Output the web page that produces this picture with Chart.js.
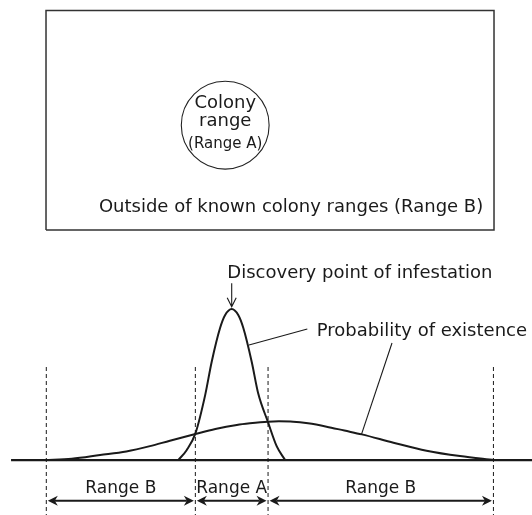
<!DOCTYPE html>
<html>
<head>
<meta charset="utf-8">
<script src="https://cdn.jsdelivr.net/npm/chart.js@4.4.1/dist/chart.umd.min.js"></script>
<style>
    html, body { margin: 0; padding: 0; background: #fff; }
    #wrap { position: relative; width: 532px; height: 515px; }
    canvas { position: absolute; left: 0; }
    #mapChart { top: 0; }
    #profileChart { top: 240px; }
</style>
</head>
<body>
<div id="wrap">
    <canvas id="mapChart" width="532" height="240"></canvas>
    <canvas id="profileChart" width="532" height="275"></canvas>
</div>
<script>
// Map view: surveyed area and the known colony (map units)
const areaX = [0, 10, 10, 0, 0];
const areaY = [0, 0, 4.9, 4.9, 0];
const colonyCenter = [4.0, 2.34];
const colonyRadius = 0.98;

// Profile through the discovery point (x: distance, y: relative probability)
const rangeBounds = [-5.1, -1.0, 1.0, 7.2];
const rangeNames = ['Range B', 'Range A', 'Range B'];
const narrowX = [-1.47, -1.24, -1.0, -0.73, -0.55, -0.32, -0.18, 0, 0.18, 0.32, 0.55, 0.73, 1.0, 1.24, 1.47];
const narrowY = [0, 0.065, 0.175, 0.43, 0.651, 0.874, 0.96, 1.0, 0.96, 0.874, 0.651, 0.44, 0.25, 0.09, 0];
const wideX = [-5.14, -4.4, -3.62, -2.9, -2.25, -1.7, -1.0, -0.45, 0.14, 0.5, 1.0, 1.3, 1.69, 2.1, 2.61, 3.1, 3.58, 4.45, 5.36, 6.28, 7.22];
const wideY = [0, 0.008, 0.033, 0.057, 0.092, 0.128, 0.172, 0.205, 0.232, 0.243, 0.254, 0.256, 0.254, 0.243, 0.221, 0.195, 0.170, 0.115, 0.062, 0.026, 0];
const groundX = [-6.07, 8.3];

const INK = '#1a1a1a';
const FONT = '"DejaVu Sans", "Liberation Sans", Arial, sans-serif';

const toPoints = (xs, ys) => xs.map((x, i) => ({ x: x, y: ys[i] }));

// draws the labels, leader lines and arrows on top of the datasets
const notesPlugin = {
    id: 'notes',
    afterDatasetsDraw(chart, args, opts) {
        const ctx = chart.ctx;
        const px = v => chart.scales.x.getPixelForValue(v);
        const py = v => chart.scales.y.getPixelForValue(v);
        ctx.save();
        ctx.strokeStyle = INK;
        ctx.fillStyle = INK;

        (opts.lines || []).forEach(l => {
            ctx.lineWidth = 1.1;
            ctx.beginPath();
            ctx.moveTo(px(l[0]), py(l[1]));
            ctx.lineTo(px(l[2]), py(l[3]));
            ctx.stroke();
        });

        // open arrow pointing down
        (opts.pointers || []).forEach(p => {
            const x = px(p.x), y0 = py(p.from), y1 = py(p.to);
            ctx.lineWidth = 1.1;
            ctx.beginPath();
            ctx.moveTo(x, y0);
            ctx.lineTo(x, y1);
            ctx.moveTo(x - 4.5, y1 - 9);
            ctx.lineTo(x, y1);
            ctx.lineTo(x + 4.5, y1 - 9);
            ctx.stroke();
        });

        // double headed arrows between range bounds
        if (opts.spans) {
            const s = opts.spans;
            const y = py(s.y);
            const head = (tx, dir) => {
                ctx.beginPath();
                ctx.moveTo(tx, y);
                ctx.lineTo(tx + dir * 10, y - 5);
                ctx.lineTo(tx + dir * 7, y);
                ctx.lineTo(tx + dir * 10, y + 5);
                ctx.closePath();
                ctx.fill();
            };
            for (let i = 0; i < s.bounds.length - 1; i++) {
                const a = px(s.bounds[i]) + 1.5;
                const b = px(s.bounds[i + 1]) - 1.5;
                ctx.lineWidth = 2;
                ctx.beginPath();
                ctx.moveTo(a + 7, y);
                ctx.lineTo(b - 7, y);
                ctx.stroke();
                head(a, 1);
                head(b, -1);
            }
        }

        (opts.texts || []).forEach(t => {
            ctx.font = t.size + 'px ' + FONT;
            ctx.textAlign = t.align || 'center';
            ctx.textBaseline = 'alphabetic';
            ctx.fillText(t.text, px(t.x), py(t.y));
        });
        ctx.restore();
    }
};

const baseOptions = (xr, yr, notes) => ({
    responsive: false,
    animation: false,
    devicePixelRatio: 1,
    layout: { padding: 0 },
    elements: { point: { radius: 0, hoverRadius: 0 } },
    scales: {
        x: { type: 'linear', display: false, min: xr[0], max: xr[1] },
        y: { type: 'linear', display: false, min: yr[0], max: yr[1] }
    },
    plugins: { legend: { display: false }, tooltip: { enabled: false }, notes: notes }
});

// --- top: map of the area ---
new Chart(document.getElementById('mapChart'), {
    type: 'scatter',
    data: {
        datasets: [
            {
                data: toPoints(areaX, areaY),
                showLine: true,
                borderColor: '#333',
                borderWidth: 1.5,
                tension: 0
            },
            {
                data: [{ x: colonyCenter[0], y: colonyCenter[1] }],
                showLine: false,
                pointStyle: 'circle',
                pointRadius: ctx => {
                    const s = ctx.chart.scales.x;
                    return s.getPixelForValue(colonyRadius) - s.getPixelForValue(0);
                },
                pointBorderWidth: 1.1,
                pointBorderColor: '#222',
                pointBackgroundColor: 'rgba(0,0,0,0)'
            }
        ]
    },
    options: baseOptions([-1.027, 10.848], [-0.223, 5.134], {
        texts: [
            { text: 'Colony', x: colonyCenter[0], y: 2.72, size: 18 },
            { text: 'range', x: colonyCenter[0], y: 2.32, size: 18 },
            { text: '(Range A)', x: colonyCenter[0], y: 1.83, size: 15 },
            { text: 'Outside of known colony ranges (Range B)', x: 5.47, y: 0.41, size: 18 }
        ]
    }),
    plugins: [notesPlugin]
});

// --- bottom: probability profile ---
const guideTop = 0.616;
const profileYRange = [-0.364, 1.457];

const guideSets = rangeBounds.map(b => ({
    data: [{ x: b, y: guideTop }, { x: b, y: profileYRange[0] }],
    showLine: true,
    borderColor: INK,
    borderWidth: 1,
    borderDash: [4, 3]
}));

new Chart(document.getElementById('profileChart'), {
    type: 'scatter',
    data: {
        datasets: [
            ...guideSets,
            {
                data: groundX.map(x => ({ x: x, y: 0 })),
                showLine: true,
                borderColor: INK,
                borderWidth: 2.3
            },
            {
                data: toPoints(wideX, wideY),
                showLine: true,
                borderColor: INK,
                borderWidth: 2,
                cubicInterpolationMode: 'monotone'
            },
            {
                data: toPoints(narrowX, narrowY),
                showLine: true,
                borderColor: INK,
                borderWidth: 2,
                cubicInterpolationMode: 'monotone'
            }
        ]
    },
    options: baseOptions([-6.374, 8.261], profileYRange, {
        lines: [
            [2.08, 0.868, 0.476, 0.762],
            [4.41, 0.775, 3.57, 0.170]
        ],
        pointers: [{ x: 0, from: 1.17, to: 1.015 }],
        spans: { bounds: rangeBounds, y: -0.27 },
        texts: [
            { text: 'Discovery point of infestation', x: -0.12, y: 1.205, size: 18, align: 'left' },
            { text: 'Probability of existence', x: 2.34, y: 0.82, size: 18, align: 'left' },
            ...rangeNames.map((n, i) => ({
                text: n,
                x: (rangeBounds[i] + rangeBounds[i + 1]) / 2,
                y: -0.219,
                size: 17
            }))
        ]
    }),
    plugins: [notesPlugin]
});
</script>
</body>
</html>
